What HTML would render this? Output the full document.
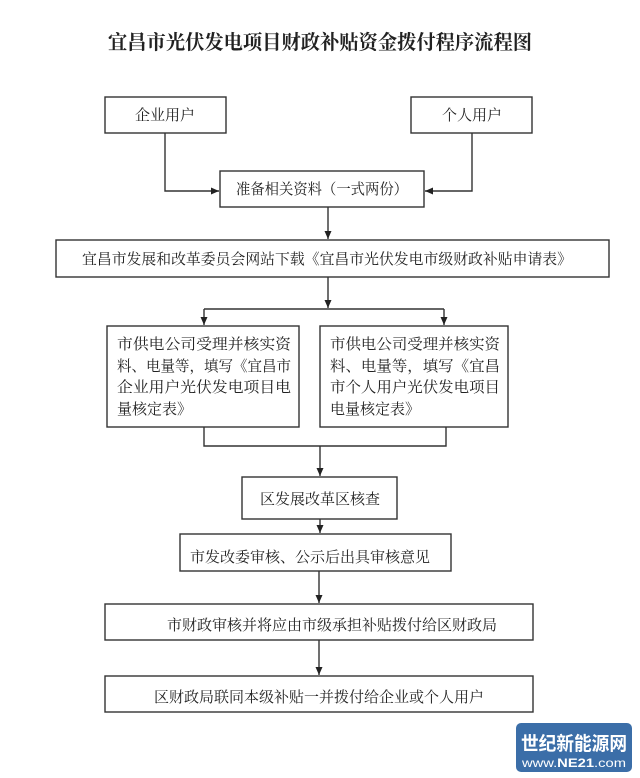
<!DOCTYPE html>
<html><head><meta charset="utf-8"><style>
html,body{margin:0;padding:0;background:#fff;}
svg{display:block;}
text{font-family:"Liberation Serif","Noto Serif CJK SC",serif;fill:#222;}
</style></head><body>
<svg width="640" height="778" viewBox="0 0 640 778" xmlns="http://www.w3.org/2000/svg">
<defs><marker id="a" markerWidth="8" markerHeight="8" refX="4" refY="7" orient="auto" markerUnits="userSpaceOnUse"><path d="M0,0 L8,0 L4,8 z" fill="#222" transform="rotate(-90 4 4) translate(0,0)"/></marker>
<marker id="d" markerWidth="8" markerHeight="8" refX="4" refY="8" markerUnits="userSpaceOnUse"><path d="M0.5,0 L7.5,0 L4,8 z" fill="#222"/></marker>
<marker id="r" markerWidth="8" markerHeight="8" refX="8" refY="4" markerUnits="userSpaceOnUse"><path d="M0,0.5 L8,4 L0,7.5 z" fill="#222"/></marker>
<marker id="l" markerWidth="8" markerHeight="8" refX="0" refY="4" markerUnits="userSpaceOnUse"><path d="M8,0.5 L0,4 L8,7.5 z" fill="#222"/></marker></defs>
<text x="320" y="49" text-anchor="middle" font-size="20" font-weight="bold" textLength="424" lengthAdjust="spacingAndGlyphs">宜昌市光伏发电项目财政补贴资金拨付程序流程图</text>
<g fill="none" stroke="#333" stroke-width="1.4">
<rect x="105" y="97" width="121" height="36"/>
<rect x="411" y="97" width="121" height="36"/>
<rect x="220" y="171" width="204" height="36"/>
<rect x="56" y="240" width="553" height="37"/>
<rect x="107" y="326" width="192" height="101"/>
<rect x="320" y="326" width="188" height="101"/>
<rect x="242" y="477" width="155" height="42"/>
<rect x="180" y="534" width="271" height="37"/>
<rect x="105" y="604" width="428" height="36"/>
<rect x="105" y="676" width="428" height="36"/>
<path d="M165,133 V191 H219" marker-end="url(#r)"/>
<path d="M472,133 V191 H425" marker-end="url(#l)"/>
<path d="M328,207 V239" marker-end="url(#d)"/>
<path d="M328,277 V308" marker-end="url(#d)"/>
<path d="M204,309 H444"/>
<path d="M204,309 V325" marker-end="url(#d)"/>
<path d="M444,309 V325" marker-end="url(#d)"/>
<path d="M204,427 V446 H446 V427"/>
<path d="M320,446 V476" marker-end="url(#d)"/>
<path d="M320,519 V533" marker-end="url(#d)"/>
<path d="M319,571 V603" marker-end="url(#d)"/>
<path d="M319,640 V675" marker-end="url(#d)"/>
</g>
<g font-size="15">
<text x="165" y="120" text-anchor="middle">企业用户</text>
<text x="472" y="120" text-anchor="middle">个人用户</text>
<text x="322" y="194" text-anchor="middle" textLength="172" lengthAdjust="spacingAndGlyphs">准备相关资料（一式两份）</text>
<text x="82" y="264" textLength="490" lengthAdjust="spacingAndGlyphs">宜昌市发展和改革委员会网站下载《宜昌市光伏发电市级财政补贴申请表》</text>
<text x="117" y="349" textLength="174" lengthAdjust="spacingAndGlyphs">市供电公司受理并核实资</text>
<text x="117" y="371" textLength="174" lengthAdjust="spacingAndGlyphs">料、电量等，填写《宜昌市</text>
<text x="117" y="392" textLength="174" lengthAdjust="spacingAndGlyphs">企业用户光伏发电项目电</text>
<text x="117" y="414">量核定表》</text>
<text x="330" y="349" textLength="170" lengthAdjust="spacingAndGlyphs">市供电公司受理并核实资</text>
<text x="330" y="371" textLength="170" lengthAdjust="spacingAndGlyphs">料、电量等，填写《宜昌</text>
<text x="330" y="392" textLength="170" lengthAdjust="spacingAndGlyphs">市个人用户光伏发电项目</text>
<text x="330" y="414">电量核定表》</text>
<text x="260" y="504" textLength="120" lengthAdjust="spacingAndGlyphs">区发展改革区核查</text>
<text x="190" y="562" textLength="240" lengthAdjust="spacingAndGlyphs">市发改委审核、公示后出具审核意见</text>
<text x="167" y="630" textLength="330" lengthAdjust="spacingAndGlyphs">市财政审核并将应由市级承担补贴拨付给区财政局</text>
<text x="154" y="702" textLength="330" lengthAdjust="spacingAndGlyphs">区财政局联同本级补贴一并拨付给企业或个人用户</text>
</g>
<rect x="516" y="723" width="116" height="49" rx="5" fill="#3b6ea8"/>
<text x="574" y="750" text-anchor="middle" font-size="19" font-weight="bold" style="fill:#fff;font-family:'Liberation Sans','Noto Sans CJK SC',sans-serif" textLength="106" lengthAdjust="spacingAndGlyphs">世纪新能源网</text>
<text x="574" y="767" text-anchor="middle" font-size="12" style="fill:#fff;font-family:'Liberation Sans',sans-serif" textLength="104" lengthAdjust="spacingAndGlyphs">www.<tspan font-weight="bold">NE21</tspan>.com</text>
</svg>
</body></html>
